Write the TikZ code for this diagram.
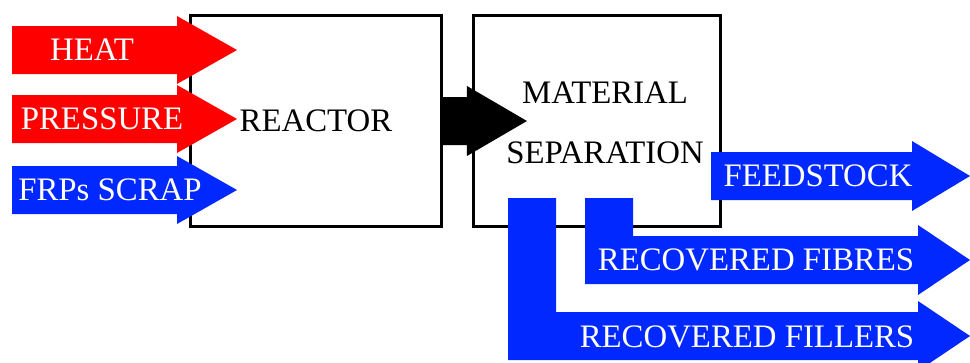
\documentclass[tikz,border=0pt]{standalone}
\usepackage{fontspec}
\setmainfont{Liberation Serif}
\definecolor{hotred}{RGB}{255,0,0}
\definecolor{flowblue}{RGB}{0,40,255}

\begin{document}
\begin{tikzpicture}[x=0.03cm,y=-0.03cm,
	font=\fontsize{28}{51}\selectfont,
	box/.style={draw,line width=2.5pt,minimum height=6.33cm,inner sep=0pt,text height=18.5pt,text depth=0pt},
	lbl/.style={text=white,inner sep=0pt,text height=18.5pt,text depth=0pt}]

\useasboundingbox (0,0) rectangle (970,363);

\node [box,minimum width=7.53cm] (reactor) at (316,121) {REACTOR};
\node [box,minimum width=7.41cm] (sep) at (597,121) {};
\node [align=center,inner sep=0pt] (septext) at (605,122.5) {MATERIAL\\SEPARATION};

% what goes into the reactor
\foreach \y/\c in {50/hotred,119/hotred,190/flowblue} {
	\fill [\c] (12,\y-24) -- (177,\y-24) -- (177,\y-34) -- (237,\y) --
	(177,\y+34) -- (177,\y+24) -- (12,\y+24) -- cycle;
}

% reactor -> separation
\fill (reactor.east) ++(0,-24) -- ++(24,0) -- ++(0,-11) -- ++(60,35) --
++(-60,35) -- ++(0,-11) -- ++(-24,0) -- cycle;

% products
\fill [flowblue] (711,152) -- (912,152) -- (912,141) -- (970,176) --
(912,211) -- (912,200) -- (711,200) -- cycle;

\foreach \x/\y in {585/260,508/336} {
	\fill [flowblue] (\x,198) -- (\x+48,198) -- (\x+48,\y-24) -- (918,\y-24) --
	(918,\y-35) -- (970,\y) -- (918,\y+35) -- (918,\y+24) -- (\x,\y+24) -- cycle;
}

\node [lbl] (heat) at (92,50) {HEAT};
\node [lbl] (pressure) at (102,119) {PRESSURE};
\node [lbl] (scrap) at (110,190) {FRPs SCRAP};

\node [lbl] (feedstock) at (818,176) {FEEDSTOCK};
\node [lbl] (fibres) at (756,260) {RECOVERED FIBRES};
\node [lbl] (fillers) at (747,337) {RECOVERED FILLERS};

\end{tikzpicture}
\end{document}
